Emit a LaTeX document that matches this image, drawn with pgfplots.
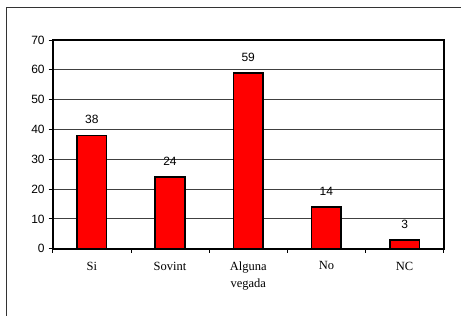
\documentclass[border=0pt]{standalone}
\usepackage{pgfplots}
\pgfplotsset{compat=1.18}
\usepackage{fontspec}
\setmainfont{Liberation Sans}
\newfontfamily\timesfont{Liberation Serif}
\begin{document}
\begin{tikzpicture}[x=1pt,y=1pt]
\path[use as bounding box] (0,0) rectangle (461,316);
\draw[line width=1.3pt, black!80] (6.5,0) -- (6.5,308.7) -- (461,308.7);
\begin{axis}[
  at={(52.7pt,67.3pt)}, anchor=south west,
  scale only axis, width=391pt, height=208.7pt,
  xmin=-0.5, xmax=4.5, ymin=0, ymax=70,
  ytick={0,10,...,70},
  xtick={0,1,2,3,4},
  xticklabels={Si,Sovint,{Alguna\\vegada},No,NC},
  minor xtick={-0.5,0.5,1.5,2.5,3.5,4.5},
  major x tick style={draw=none},
  minor x tick style={line width=0.8pt, black},
  major y tick style={line width=0.8pt, black},
  tick align=outside,
  major tick length=4pt,
  minor tick length=4pt,
  xtick pos=bottom, ytick pos=left,
  ymajorgrids,
  major grid style={black!75, line width=0.8pt},
  axis line style={line width=2pt},
  /pgf/number format/assume math mode=true,
  yticklabel style={font=\fontsize{12}{14}\selectfont, xshift=-0.5pt},
  xticklabel style={font=\timesfont\fontsize{12.5}{17.5}\selectfont, align=center, anchor=north, yshift=-5.5pt},
  ybar, bar width=29.5pt,
  nodes near coords,
  every node near coord/.append style={font=\fontsize{12}{14}\selectfont, yshift=7.5pt},
]
\addplot[fill=red, draw=black, line width=1.6pt] coordinates {(0,38) (1,24) (2,59) (3,14) (4,3)};
\end{axis}
\end{tikzpicture}
\end{document}
